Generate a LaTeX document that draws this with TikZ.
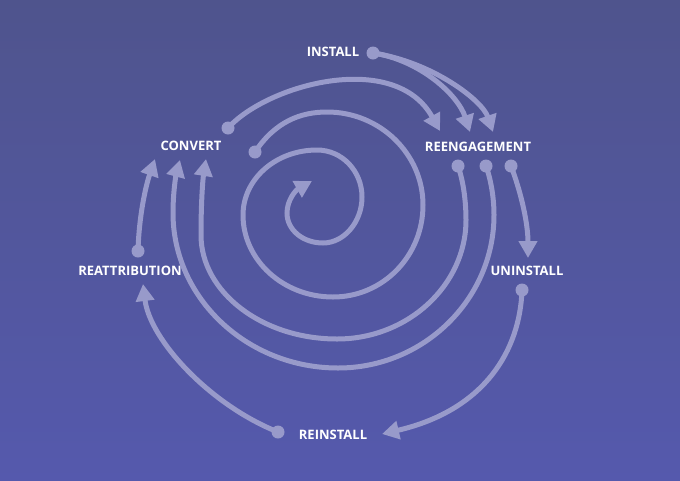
\documentclass[tikz,border=0pt]{standalone}
\usepackage{fontspec}
\setmainfont{Open Sans}
\usetikzlibrary{arrows.meta}
\definecolor{bgtop}{RGB}{79,84,141}
\definecolor{bgbot}{RGB}{85,89,173}
\definecolor{arccol}{RGB}{152,154,202}
\begin{document}
\begin{tikzpicture}[x=1pt,y=-1pt,
  flow/.style={draw=arccol, line width=5pt, line cap=round, -{Triangle[length=17pt,width=18pt]}},
  dotnode/.style={circle, fill=arccol, minimum size=13pt, inner sep=0pt},
  lbl/.style={text=white, font=\bfseries\fontsize{13pt}{15pt}\selectfont, inner sep=0pt}]
\shade[top color=bgtop, bottom color=bgbot] (0,0) rectangle (680,480);
\useasboundingbox (0,0) rectangle (680,480);

% labels
\node[lbl] (install) at (333,52) {INSTALL};
\node[lbl] (reeng) at (478,147) {REENGAGEMENT};
\node[lbl] (convert) at (191,146) {CONVERT};
\node[lbl] (reattr) at (130,271) {REATTRIBUTION};
\node[lbl] (uninst) at (527,271) {UNINSTALL};
\node[lbl] (reinst) at (333,435) {REINSTALL};

% start dots
\node[dotnode] (dinstall) at (373,53) {};
\node[dotnode] (dconv) at (228,128) {};
\node[dotnode] (dspiral) at (255,152) {};
\node[dotnode] (dre1) at (458,166) {};
\node[dotnode] (dre2) at (486,166) {};
\node[dotnode] (dre3) at (511,166) {};
\node[dotnode] (dreattr) at (138,251) {};
\node[dotnode] (duninst) at (522,290) {};
\node[dotnode] (dreinst) at (278,432) {};

% arrow tips
\coordinate (tA) at (470,132);
\coordinate (tB) at (493,132);
\coordinate (tC) at (440,131);
\coordinate (tS) at (312,181);
\coordinate (tD) at (206,159);
\coordinate (tE) at (180,160);
\coordinate (tF) at (528,258);
\coordinate (tG) at (155,159);
\coordinate (tH) at (382,434);
\coordinate (tI) at (143,284);

% install -> reengagement (two)
\draw[flow] (dinstall.center) .. controls (420,60) and (458,95) .. (tA);
\draw[flow] (dinstall.center) .. controls (432,62) and (482,100) .. (tB);
% convert -> reengagement
\draw[flow] (dconv.center) .. controls (268,84) and (395,50) .. (tC);
% spiral
\draw[flow] (dspiral.center) .. controls (275,122) and (300,112) .. (327,112)
  .. controls (380,112) and (423,154) .. (423,205)
  .. controls (423,256) and (383,297) .. (333,297)
  .. controls (283,297) and (243,260) .. (243,215)
  .. controls (243,179) and (276,150) .. (317,150)
  .. controls (342,150) and (362,171) .. (362,197)
  .. controls (362,222) and (344,243) .. (323,243)
  .. controls (303,243) and (287,230) .. (287,213)
  .. controls (287,200) and (296,190) .. (tS);
% reengagement -> convert (two)
\draw[flow] (dre1.center) .. controls (463,180) and (466,200) .. (466,220)
  .. controls (466,285) and (408,339) .. (337,339)
  .. controls (262,339) and (201,292) .. (201,235)
  .. controls (201,200) and (203,178) .. (tD);
\draw[flow] (dre2.center) .. controls (491,180) and (494,198) .. (494,215)
  .. controls (494,299) and (424,368) .. (338,368)
  .. controls (247,368) and (173,298) .. (173,213)
  .. controls (173,192) and (176,175) .. (tE);
% reengagement -> uninstall
\draw[flow] (dre3.center) .. controls (522,195) and (528,225) .. (tF);
% reattribution -> convert
\draw[flow] (dreattr.center) .. controls (139,215) and (146,185) .. (tG);
% uninstall -> reinstall
\draw[flow] (duninst.center) .. controls (520,350) and (485,410) .. (tH);
% reinstall -> reattribution
\draw[flow] (dreinst.center) .. controls (210,405) and (150,340) .. (tI);
\end{tikzpicture}
\end{document}
